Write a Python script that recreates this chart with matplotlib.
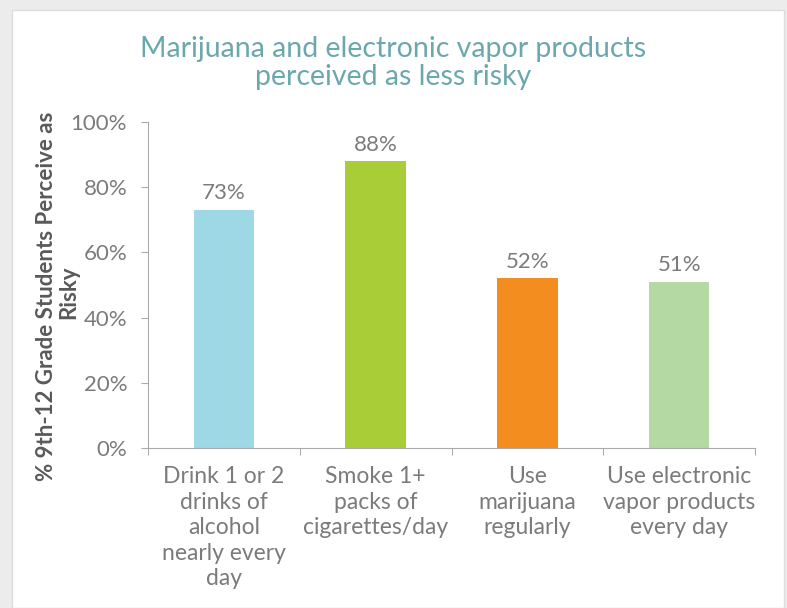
import matplotlib.pyplot as plt
from matplotlib.patches import Rectangle
from matplotlib.ticker import PercentFormatter

categories = ["Drink 1 or 2\ndrinks of\nalcohol\nnearly every\nday",
              "Smoke 1+\npacks of\ncigarettes/day",
              "Use\nmarijuana\nregularly",
              "Use electronic\nvapor products\nevery day"]
values = [73, 88, 52, 51]
labels = ["73%", "88%", "52%", "51%"]
colors = ["#9ED8E5", "#A8CD37", "#F48D1F", "#B4D9A2"]
ylabel_lines = ["% 9th-12 Grade Students Perceive as", "Risky"]

plt.rcParams['font.family'] = ['Lato', 'DejaVu Sans']

fig = plt.figure(figsize=(7.87, 6.08), dpi=100)
fig.patch.set_facecolor("#ececec")

# white card with a faint edge, behind everything
card = Rectangle((12 / 787, 0), (784 - 12) / 787, 1 - 10 / 608,
                 transform=fig.transFigure, facecolor="white",
                 edgecolor="#dddddd", linewidth=1, zorder=-10)
fig.patches.append(card)

ax = fig.add_axes([148 / 787, 1 - 448 / 608, (755 - 148) / 787, (448 - 122) / 608])
ax.set_facecolor("none")
ax.set_zorder(5)

grey = "#7b7b7b"
x = range(len(values))
ax.bar(x, values, width=0.4, color=colors)
for xi, v, lab in zip(x, values, labels):
    ax.text(xi, v + 2, lab, ha="center", va="bottom", fontsize=16, color=grey)

ax.set_xlim(-0.5, len(values) - 0.5)
ax.set_ylim(0, 100)
ax.set_yticks([0, 20, 40, 60, 80, 100])
ax.yaxis.set_major_formatter(PercentFormatter(decimals=0))
ax.set_xticks([i - 0.5 for i in range(len(values) + 1)], minor=False)
ax.set_xticklabels([])
ax.set_xticks(list(x), minor=True)
ax.set_xticklabels(categories, minor=True, fontsize=16.5, color=grey, linespacing=1.27)
ax.tick_params(axis="x", which="minor", length=0, pad=13)
ax.tick_params(axis="x", which="major", length=5, color="#aaaaaa", direction="out")
ax.tick_params(axis="y", length=5, color="#aaaaaa", labelsize=16, labelcolor=grey, pad=10)

for s in ["top", "right"]:
    ax.spines[s].set_visible(False)
ax.spines["left"].set_color("#aaaaaa")
ax.spines["bottom"].set_color("#aaaaaa")

# y label as two rotated lines (the second tucks in next to the tick labels)
fig.text(47 / 787, 1 - 296 / 608, ylabel_lines[0], rotation=90, ha="center", va="center",
         fontsize=16, fontweight="bold", color="#595959")
fig.text(69 / 787, 1 - 292 / 608, ylabel_lines[1], rotation=90, ha="center", va="center",
         fontsize=16, fontweight="bold", color="#595959")

fig.text(0.5, 1 - 63 / 608, "Marijuana and electronic vapor products\nperceived as less risky",
         ha="center", va="center", fontsize=20.5, color="#6BA8AE", linespacing=1.1)

fig.savefig("out.png", dpi=100, facecolor=fig.get_facecolor())
